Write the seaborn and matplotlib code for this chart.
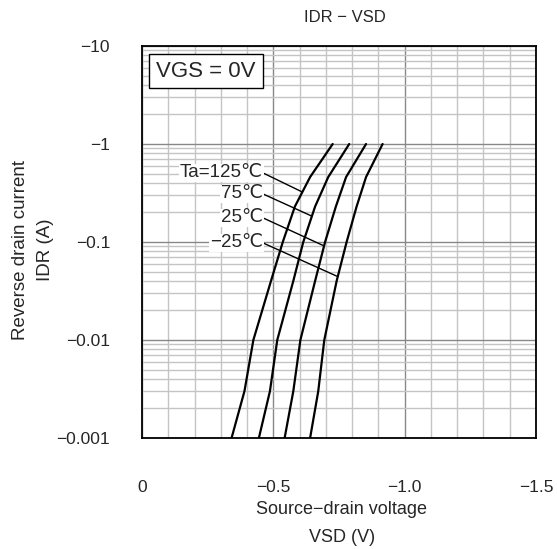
import matplotlib
matplotlib.use("Agg")
import matplotlib.pyplot as plt
import seaborn as sns
import pandas as pd
import numpy as np
from matplotlib.ticker import FixedLocator, NullFormatter

sns.set_style("white")
plt.rcParams['font.family'] = ['Liberation Sans', 'DejaVu Sans']
plt.rcParams['axes.unicode_minus'] = True

# Reverse drain current magnitude (A) -- axis shows it with a negative sign
idr = [0.001, 0.003, 0.01, 0.04, 0.1, 0.23, 0.46, 1.0]
# Source-drain voltage magnitude (V) per ambient temperature
vsd_125 = [0.341, 0.390, 0.424, 0.491, 0.536, 0.582, 0.640, 0.726]
vsd_75 = [0.445, 0.487, 0.515, 0.576, 0.614, 0.659, 0.709, 0.789]
vsd_25 = [0.543, 0.576, 0.603, 0.659, 0.697, 0.738, 0.777, 0.853]
vsd_m25 = [0.640, 0.671, 0.694, 0.741, 0.779, 0.817, 0.853, 0.916]
temps = ["Ta=125℃", "75℃", "25℃", "−25℃"]

x_ticks = [0, 0.5, 1.0, 1.5]
x_ticklabels = ["0", "−0.5", "−1.0", "−1.5"]
y_ticks = [0.001, 0.01, 0.1, 1, 10]
y_ticklabels = ["−0.001", "−0.01", "−0.1", "−1", "−10"]

# label anchors (text right end) and leader ends on the curves
label_pos = [(0.461, 0.506), (0.461, 0.309), (0.461, 0.176), (0.461, 0.0977)]
leader_end = [(0.608, 0.326), (0.646, 0.184), (0.694, 0.091), (0.741, 0.0449)]

rows = []
for t, v in zip(temps, [vsd_125, vsd_75, vsd_25, vsd_m25]):
    for xi, yi in zip(v, idr):
        rows.append({"temp": t, "vsd": xi, "idr": yi})
df = pd.DataFrame(rows)

fig = plt.figure(figsize=(5.57, 5.49), dpi=100)
ax = fig.add_axes([142/557, 1-438/549, 394/557, 392/549])

ax.set_yscale("log")
ax.set_xlim(0, 1.5)
ax.set_ylim(0.001, 10)

# grid
ax.xaxis.set_major_locator(FixedLocator(x_ticks))
ax.xaxis.set_minor_locator(FixedLocator(np.arange(0.1, 1.5, 0.1)))
ax.yaxis.set_major_locator(FixedLocator(y_ticks))
minor_y = [m * 10.0**e for e in range(-3, 1) for m in range(2, 10)]
ax.yaxis.set_minor_locator(FixedLocator(minor_y))
ax.yaxis.set_minor_formatter(NullFormatter())
ax.xaxis.set_minor_formatter(NullFormatter())
ax.grid(True, which="minor", color="#c4c4c4", linewidth=1.0)
ax.grid(True, which="major", color="#888888", linewidth=1.0)
ax.set_axisbelow(True)

sns.lineplot(data=df, x="vsd", y="idr", hue="temp", units="temp", estimator=None,
             palette=["black"] * 4, legend=False, linewidth=1.6, ax=ax, sort=False)

for t, (lx, ly), (ex, ey) in zip(temps, label_pos, leader_end):
    ax.plot([lx, ex], [ly, ey], color="black", linewidth=1.0, zorder=3)
    ax.text(lx, ly, t, ha="right", va="center", fontsize=13.5, zorder=4,
            bbox=dict(facecolor="white", edgecolor="none", pad=0.5))

ax.text(0.1624, 0.936, "VGS = 0V", transform=ax.transAxes, ha="center", va="center",
        fontsize=16, zorder=5,
        bbox=dict(facecolor="white", edgecolor="black", linewidth=1.0, pad=5))

ax.set_xticklabels(x_ticklabels)
ax.set_yticklabels(y_ticklabels)
ax.tick_params(axis="both", which="both", length=0, labelsize=12.5)
ax.tick_params(axis="x", pad=30)
ax.tick_params(axis="y", pad=23)

for s in ax.spines.values():
    s.set_color("black")
    s.set_linewidth(1.3)

ax.set_xlabel("Source−drain voltage\nVSD (V)", fontsize=13, linespacing=1.85)
ax.xaxis.set_label_coords((342 - 142) / 394, -(501 - 438) / 392)
ax.set_ylabel("Reverse drain current\nIDR (A)", fontsize=13.5, linespacing=1.6)
ax.yaxis.set_label_coords((54 - 142) / 394, 0.5 - (250 - 242) / 392)
fig.text(345/557, 1-18/549, "IDR − VSD", ha="center", va="center", fontsize=12)

fig.savefig("out.png", dpi=100)
